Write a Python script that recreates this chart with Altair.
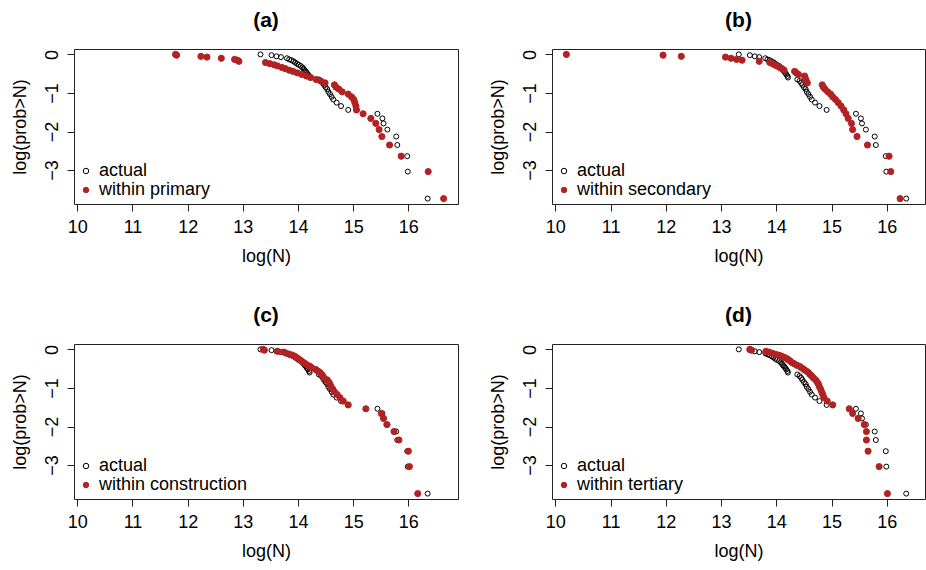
import altair as alt
import pandas as pd

# log(prob>N) values (rank based, same for every series), largest N first
log_prob = [-3.74, -3.04, -2.64, -2.35, -2.13, -1.95, -1.79, -1.66, -1.54, -1.44,
            -1.34, -1.25, -1.17, -1.10, -1.03, -0.97, -0.90, -0.85, -0.79, -0.74,
            -0.69, -0.65, -0.60, -0.56, -0.52, -0.48, -0.44, -0.41, -0.37, -0.34,
            -0.30, -0.27, -0.24, -0.21, -0.18, -0.15, -0.13, -0.10, -0.07, -0.05,
            -0.02, 0.0]

actual_x = [16.35, 15.99, 15.98, 15.80, 15.78, 15.62, 15.55, 15.53, 15.44, 14.91,
            14.78, 14.70, 14.64, 14.61, 14.58, 14.55, 14.53, 14.50, 14.47, 14.45,
            14.42, 14.38, 14.21, 14.20, 14.18, 14.16, 14.14, 14.12, 14.10, 14.08,
            14.05, 14.01, 13.98, 13.95, 13.92, 13.88, 13.84, 13.80, 13.69, 13.61,
            13.52, 13.32]

primary_x = [16.64, 16.36, 15.87, 15.66, 15.52, 15.47, 15.41, 15.32, 15.18, 15.06,
             15.05, 15.03, 15.01, 14.97, 14.91, 14.80, 14.74, 14.69, 14.66, 14.49,
             14.41, 14.33, 14.23, 14.15, 14.07, 13.99, 13.91, 13.84, 13.77, 13.71,
             13.63, 13.57, 13.49, 13.41, 12.93, 12.90, 12.85, 12.61, 12.35, 12.24,
             11.80, 11.78]

secondary_x = [16.24, 16.07, 16.04, 15.65, 15.46, 15.38, 15.36, 15.30, 15.26, 15.22,
               15.17, 15.12, 15.07, 15.02, 14.98, 14.93, 14.88, 14.85, 14.83, 14.56,
               14.54, 14.53, 14.52, 14.51, 14.40, 14.36, 14.33, 14.14, 14.10, 14.06,
               14.01, 13.97, 13.93, 13.88, 13.69, 13.38, 13.28, 13.18, 13.08, 12.28,
               11.95, 10.20]

construction_x = [16.17, 16.02, 16.00, 15.83, 15.74, 15.61, 15.55, 15.51, 15.23, 14.91,
                  14.82, 14.76, 14.71, 14.66, 14.63, 14.60, 14.58, 14.56, 14.53, 14.47,
                  14.45, 14.43, 14.40, 14.36, 14.32, 14.25, 14.22, 14.17, 14.13, 14.10,
                  14.06, 14.03, 14.00, 13.97, 13.94, 13.90, 13.85, 13.79, 13.74, 13.63,
                  13.39, 13.37]

tertiary_x = [16.01, 15.86, 15.66, 15.63, 15.63, 15.59, 15.48, 15.38, 15.32, 15.02,
              14.92, 14.86, 14.84, 14.82, 14.80, 14.78, 14.76, 14.74, 14.71, 14.67,
              14.64, 14.61, 14.58, 14.54, 14.50, 14.46, 14.42, 14.37, 14.32, 14.28,
              14.25, 14.22, 14.19, 14.15, 14.10, 14.05, 13.99, 13.93, 13.87, 13.81,
              13.55, 13.52]

x_ticks = [10, 11, 12, 13, 14, 15, 16]
y_ticks = [0, -1, -2, -3]

FONT = "Liberation Sans"
RED = "#B22222"


def panel(tag, label, xs, xmax, width):
    df = pd.DataFrame({
        "x": actual_x + xs,
        "y": log_prob + log_prob,
        "series": ["actual"] * len(actual_x) + [label] * len(xs),
    })
    dom = ["actual", label]
    leg = alt.Legend(title=None, orient="none", legendX=3, legendY=113,
                     labelFont=FONT, labelFontSize=18, labelColor="black",
                     symbolSize=30, symbolStrokeWidth=1, labelOffset=4,
                     rowPadding=1, padding=0)
    x = alt.X("x:Q", scale=alt.Scale(domain=[9.94, xmax], nice=False, zero=False),
              axis=alt.Axis(values=x_ticks, title="log(N)", format="d",
                            labelBaseline="alphabetic", labelPadding=21,
                            titleBaseline="alphabetic", titleY=57))
    y = alt.Y("y:Q", scale=alt.Scale(domain=[-3.88, 0.14], nice=False, zero=False),
              axis=alt.Axis(values=y_ticks, title="log(prob>N)", format="d",
                            labelAngle=270, labelAlign="center",
                            labelBaseline="alphabetic", labelPadding=10,
                            titleAngle=270, titleAlign="center",
                            titleBaseline="alphabetic", titleX=-48.5, titleY=77.5))
    color = alt.Color("series:N", scale=alt.Scale(domain=dom, range=["black", RED]), legend=leg)
    fill = alt.Fill("series:N", scale=alt.Scale(domain=dom, range=["transparent", RED]), legend=leg)
    act = alt.Chart(df).transform_filter(alt.datum.series == "actual").mark_point(
        filled=False, opacity=1, strokeWidth=1, size=25).encode(x=x, y=y, color=color, fill=fill)
    red = alt.Chart(df).transform_filter(alt.datum.series == label).mark_point(
        filled=False, opacity=1, strokeWidth=1, size=38).encode(x=x, y=y, color=color, fill=fill)
    return alt.layer(act, red).properties(
        width=width, height=155,
        title=alt.TitleParams(text=tag, font=FONT, fontSize=21, fontWeight="bold",
                              color="black", anchor="middle", frame="group",
                              baseline="alphabetic", offset=1.5))


pa = panel("(a)", "within primary", primary_x, 16.9, 384)
pb = panel("(b)", "within secondary", secondary_x, 16.69, 373)
pc = panel("(c)", "within construction", construction_x, 16.9, 384)
pd_ = panel("(d)", "within tertiary", tertiary_x, 16.69, 373)

chart = alt.concat(pa, pb, pc, pd_, columns=2, bounds="flush",
                   spacing={"row": 140, "column": 94}).resolve_scale(
    x="independent", color="independent", fill="independent").resolve_legend(
    color="independent", fill="independent").properties(
    padding={"left": 11, "top": 9, "right": 0, "bottom": 0}
).configure_view(stroke="#222", strokeWidth=1).configure_axis(
    grid=False, domain=False, tickSize=7, tickColor="#222", tickWidth=1,
    labelFont=FONT, labelFontSize=18, labelColor="black",
    titleFont=FONT, titleFontSize=18, titleFontWeight="normal", titleColor="black")

chart.save("out.html", embed_options={"renderer": "svg", "actions": False})
